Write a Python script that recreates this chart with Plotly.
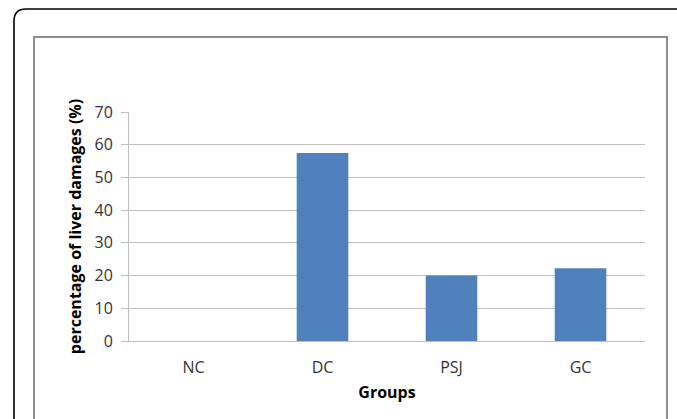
import plotly.graph_objects as go

# Liver damage percentage per treatment group
groups = ["NC", "DC", "PSJ", "GC"]
damage_pct = [0, 57.5, 20, 22.2]
y_ticks = [0, 10, 20, 30, 40, 50, 60, 70]

W, H = 677, 419
L, R, T, B = 129, 645, 112, 341  # plot area in pixels


def px(x):
    return (x - L) / (R - L)


def py(y):
    return (B - y) / (B - T)


fig = go.Figure(
    go.Bar(
        x=groups,
        y=damage_pct,
        marker=dict(color="#4f81bd", line=dict(width=0)),
        width=0.4,
    )
)

# outer rounded frame and inner grey chart-area frame
r = 12
x0, y0 = 14, 9
x1, y1 = 700, 440
outer_path = (
    f"M {px(x0)},{py(y1)} L {px(x0)},{py(y0 + r)} "
    f"Q {px(x0)},{py(y0)} {px(x0 + r)},{py(y0)} "
    f"L {px(x1)},{py(y0)}"
)
shapes = [
    dict(type="path", xref="paper", yref="paper", path=outer_path,
         line=dict(color="#000000", width=1.6)),
    dict(type="rect", xref="paper", yref="paper",
         x0=px(34), x1=px(667), y0=py(440), y1=py(37),
         line=dict(color="#8c8c8c", width=2), fillcolor="rgba(0,0,0,0)"),
]

font_family = "Open Sans, Noto Sans, DejaVu Sans, sans-serif"

fig.update_layout(
    width=W,
    height=H,
    margin=dict(l=L, r=W - R, t=T, b=H - B),
    paper_bgcolor="white",
    plot_bgcolor="white",
    showlegend=False,
    shapes=shapes,
    font=dict(family=font_family, color="#333333"),
    bargap=0.6,
)

fig.update_yaxes(
    range=[0, 70],
    tickvals=y_ticks,
    ticks="outside",
    ticklen=7,
    tickcolor="#bfbfbf",
    tickfont=dict(size=16, color="#333333"),
    ticklabelstandoff=5,
    showgrid=True,
    gridcolor="#bfbfbf",
    gridwidth=1,
    showline=True,
    linecolor="#bfbfbf",
    zeroline=False,
    title=dict(
        text="<b>percentage of liver damages (%)</b>",
        font=dict(size=16, color="#000000", family=font_family),
        standoff=8,
    ),
)

fig.update_xaxes(
    showline=True,
    linecolor="#bfbfbf",
    ticks="",
    tickfont=dict(size=16, color="#333333"),
    ticklabelstandoff=12,
    title=dict(
        text="<b>Groups</b>",
        font=dict(size=16, color="#000000", family=font_family),
        standoff=9,
    ),
)

fig.write_html("out.html")
